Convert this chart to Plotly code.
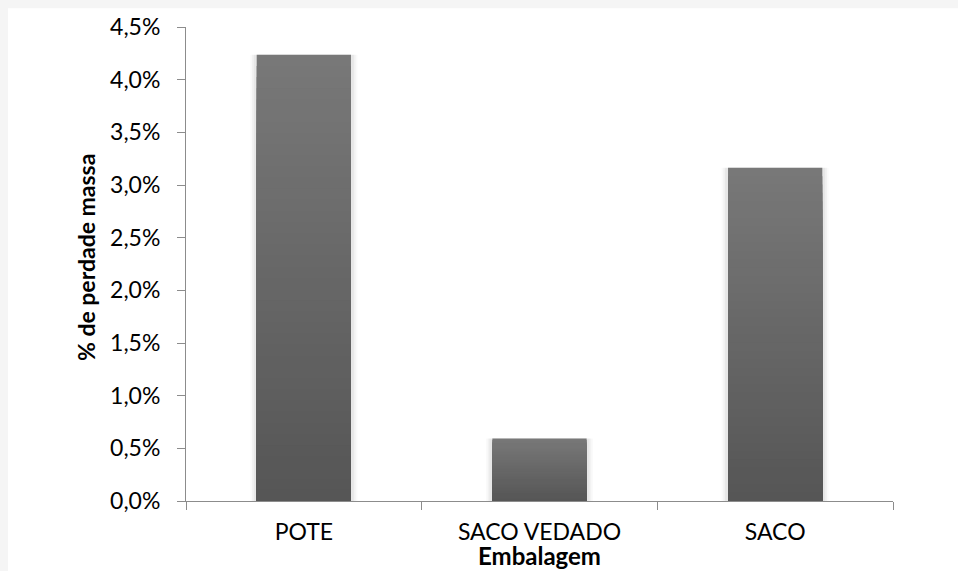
import plotly.graph_objects as go

# Perda de massa por tipo de embalagem
embalagens = ["POTE", "SACO VEDADO", "SACO"]
perda_massa = [0.04236, 0.00593, 0.03163]

y_ticks = [0, 0.005, 0.01, 0.015, 0.02, 0.025, 0.03, 0.035, 0.04, 0.045]

W, H = 958, 571
ML, MR, MT, MB = 186, 65, 23, 70
FONT = "Lato"

fig = go.Figure()

# soft shadow behind each bar
for w, a in [(0.455, 0.02), (0.44, 0.03), (0.425, 0.045)]:
    fig.add_trace(go.Bar(
        x=embalagens, y=perda_massa, width=w,
        marker=dict(color=f"rgba(0,0,0,{a})", line=dict(width=0)),
        hoverinfo="skip", showlegend=False,
    ))

# vertical gradient: overlaid bars of shrinking height, each darker than the last
N = 40
top_rgb = (0x78, 0x78, 0x78)
bot_rgb = (0x55, 0x55, 0x55)
for i in range(N):
    t = 1 - i / N
    c = tuple(round(b + (tp - b) * t) for b, tp in zip(bot_rgb, top_rgb))
    fig.add_trace(go.Bar(
        x=embalagens,
        y=[v * (N - i) / N for v in perda_massa],
        width=0.40,
        marker=dict(color=f"rgb{c}", line=dict(width=0)),
        hoverinfo="skip", showlegend=False,
    ))

# light frame along top and left edges, white card behind the chart
pw, ph = W - ML - MR, H - MT - MB
def px(x):
    return (x - ML) / pw
def py(y):
    return 1 - (y - MT) / ph

fig.add_shape(type="rect", xref="paper", yref="paper", layer="below",
              x0=px(8), x1=px(W + 5), y0=py(H + 5), y1=py(4),
              fillcolor="white", line=dict(width=0))

fig.add_annotation(text="<b>% de perdade massa</b>", textangle=-90,
                   xref="paper", yref="paper", x=px(86), y=py(256),
                   showarrow=False, font=dict(size=23),
                   xanchor="center", yanchor="middle")
fig.add_annotation(text="<b>Embalagem</b>",
                   xref="paper", yref="paper", x=px(539), y=py(571),
                   showarrow=False, font=dict(size=24),
                   xanchor="center", yanchor="bottom", yshift=-2)

fig.update_layout(
    width=W, height=H,
    margin=dict(l=ML, r=MR, t=MT, b=MB),
    paper_bgcolor="#f5f5f5",
    plot_bgcolor="rgba(0,0,0,0)",
    barmode="overlay",
    separators=",.",
    font=dict(family=FONT, size=23, color="black"),
    showlegend=False,
    xaxis=dict(
        showline=True, linecolor="#8c8c8c", linewidth=1,
        ticks="outside", tickson="boundaries", ticklen=8, tickcolor="#8c8c8c",
        ticklabelstandoff=10,
        showgrid=False,
    ),
    yaxis=dict(
        range=[0, 0.045], tickvals=y_ticks, tickformat=".1%",
        showline=True, linecolor="#8c8c8c", linewidth=1,
        ticks="outside", ticklen=8, tickcolor="#8c8c8c",
        ticklabelstandoff=12,
        showgrid=False, zeroline=False,
    ),
)

fig.write_html("out.html")
